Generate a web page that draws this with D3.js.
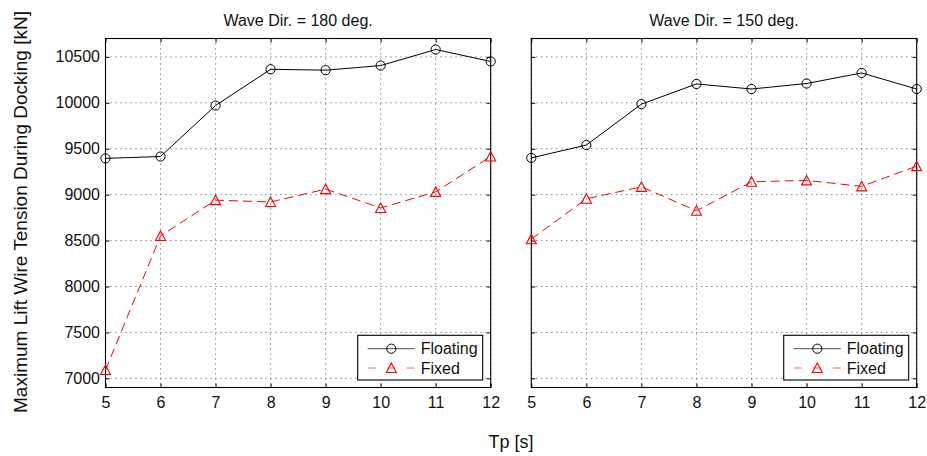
<!DOCTYPE html>
<html>
<head>
<meta charset="utf-8">
<script src="https://cdn.jsdelivr.net/npm/d3@7"></script>
<style>
  html, body { margin: 0; padding: 0; background: #fff; }
  svg { display: block; font-family: "Liberation Sans", Arial, Helvetica, sans-serif; }
</style>
</head>
<body>
<svg id="chart" width="927" height="456"></svg>
<script>
// Peak lift-wire tension during docking versus wave peak period
const tp = [5, 6, 7, 8, 9, 10, 11, 12];
const yTicks = [7000, 7500, 8000, 8500, 9000, 9500, 10000, 10500];
const panelTitles = ["Wave Dir. = 180 deg.", "Wave Dir. = 150 deg."];
const seriesNames = ["Floating", "Fixed"];

const floating180 = [9395, 9415, 9970, 10365, 10355, 10405, 10580, 10450];
const fixed180    = [7090, 8550, 8940, 8920, 9060, 8855, 9030, 9415];
const floating150 = [9400, 9540, 9985, 10205, 10150, 10210, 10325, 10150];
const fixed150    = [8515, 8955, 9085, 8825, 9140, 9155, 9090, 9310];

const panels = [
  { title: panelTitles[0], left: 105.5, right: 490.7, showY: true,  series: [floating180, fixed180] },
  { title: panelTitles[1], left: 531.3, right: 916.7, showY: false, series: [floating150, fixed150] }
];

const plotTop = 38.5, plotBottom = 387.5;
const styles = [
  { color: "#000", dash: null,  marker: "circle" },
  { color: "#ff0000", dash: "9,5", marker: "triangle" }
];

const svg = d3.select("#chart");
const y = d3.scaleLinear().domain([6900, 10700]).range([plotBottom, plotTop]);

function drawMarker(g, type, cx, cy, color) {
  if (type === "circle") {
    g.append("circle").attr("cx", cx).attr("cy", cy).attr("r", 4.6)
      .attr("fill", "none").attr("stroke", color).attr("stroke-width", 1);
  } else {
    const s = 5;
    g.append("path")
      .attr("d", `M${cx},${cy - s} L${cx + s},${cy + s * 0.9} L${cx - s},${cy + s * 0.9} Z`)
      .attr("fill", "none").attr("stroke", color).attr("stroke-width", 1.1);
  }
}

panels.forEach(p => {
  const x = d3.scaleLinear().domain([5, 12]).range([p.left, p.right]);
  const g = svg.append("g");
  const w = p.right - p.left, h = plotBottom - plotTop;

  // dotted grid
  const grid = g.append("g").attr("stroke", "#555").attr("stroke-width", 1).attr("stroke-dasharray", "1,4");
  tp.forEach(t => grid.append("line").attr("x1", x(t)).attr("x2", x(t)).attr("y1", plotTop).attr("y2", plotBottom));
  yTicks.forEach(v => grid.append("line").attr("x1", p.left).attr("x2", p.right).attr("y1", y(v)).attr("y2", y(v)));

  // axes with inward ticks on all four sides
  const ax = (gen, tx, ty, labels) => {
    const a = g.append("g").attr("transform", `translate(${tx},${ty})`).call(gen);
    a.select(".domain").remove();
    a.selectAll(".tick line").attr("stroke", "#000");
    a.selectAll("text").attr("font-size", 16).attr("fill", "#111");
    a.attr("font-family", null);
    if (!labels) a.selectAll("text").remove();
    return a;
  };
  ax(d3.axisBottom(x).tickValues(tp).tickSize(-4).tickPadding(9.4).tickFormat(d3.format("d")), 0, plotBottom, true);
  ax(d3.axisTop(x).tickValues(tp).tickSize(-4), 0, plotTop, false);
  ax(d3.axisLeft(y).tickValues(yTicks).tickSize(-4).tickPadding(5.5).tickFormat(d3.format("d")), p.left, 0, p.showY);
  ax(d3.axisRight(y).tickValues(yTicks).tickSize(-4), p.right, 0, false);

  g.append("rect").attr("x", p.left).attr("y", plotTop).attr("width", w).attr("height", h)
    .attr("fill", "none").attr("stroke", "#000").attr("stroke-width", 1.1);

  // series
  p.series.forEach((vals, i) => {
    const st = styles[i];
    const line = d3.line().x((d, k) => x(tp[k])).y(d => y(d));
    g.append("path").datum(vals).attr("d", line).attr("fill", "none")
      .attr("stroke", st.color).attr("stroke-width", 1)
      .attr("stroke-dasharray", st.dash);
    vals.forEach((v, k) => drawMarker(g, st.marker, x(tp[k]), y(v), st.color));
  });

  // title
  g.append("text").attr("x", (p.left + p.right) / 2).attr("y", 26)
    .attr("text-anchor", "middle").attr("font-size", 16).attr("fill", "#111").text(p.title);

  // legend
  const lx = p.right - 133, ly = plotBottom - 52.2, lw = 125, lh = 44.7;
  const lg = g.append("g");
  lg.append("rect").attr("x", lx).attr("y", ly).attr("width", lw).attr("height", lh)
    .attr("fill", "#fff").attr("stroke", "#000").attr("stroke-width", 1.1);
  seriesNames.forEach((name, i) => {
    const st = styles[i];
    const ry = ly + 13.4 + i * 19.3;
    lg.append("line").attr("x1", lx + 10).attr("x2", lx + 57).attr("y1", ry).attr("y2", ry)
      .attr("stroke", st.color).attr("stroke-opacity", i === 0 ? 0.7 : 0.6).attr("stroke-width", 1)
      .attr("stroke-dasharray", st.dash ? "8,11.5" : null);
    drawMarker(lg, st.marker, lx + 33.6, ry, st.color);
    lg.append("text").attr("x", lx + 63).attr("y", ry + 5.7).attr("font-size", 16).attr("fill", "#111").text(name);
  });
});

// shared axis labels
svg.append("text").attr("x", 511).attr("y", 447.5).attr("text-anchor", "middle")
  .attr("font-size", 18).attr("fill", "#111").text("Tp [s]");
svg.append("text").attr("transform", "translate(27,212) rotate(-90)").attr("text-anchor", "middle")
  .attr("font-size", 19).attr("fill", "#111").text("Maximum Lift Wire Tension During Docking [kN]");
</script>
</body>
</html>
